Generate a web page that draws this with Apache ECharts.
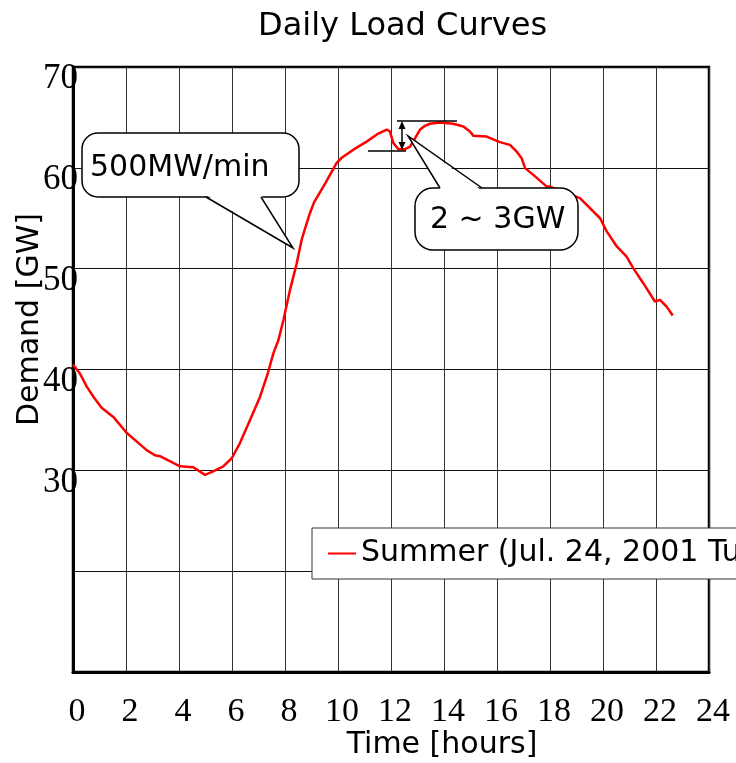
<!DOCTYPE html>
<html>
<head>
<meta charset="utf-8">
<script src="https://cdn.jsdelivr.net/npm/echarts@6/dist/echarts.min.js"></script>
<style>html,body{margin:0;padding:0;background:#fff;}#main{width:736px;height:763px;}</style>
</head>
<body>
<div id="main"></div>
<script>
// ---- data ----
const hours = [0, 0.26, 0.52, 0.77, 1.08, 1.52, 2.03, 2.78, 3.09, 3.28, 4.04, 4.54, 4.98, 5.29, 5.67, 5.99, 6.30, 6.68, 7.06, 7.36, 7.56, 7.75, 7.94, 8.19, 8.44, 8.63, 8.94, 9.10, 9.53, 9.95, 10.14, 10.58, 11.08, 11.52, 11.84, 11.96, 12.09, 12.28, 12.53, 12.72, 12.91, 13.09, 13.28, 13.47, 13.85, 14.35, 14.73, 14.98, 15.11, 15.61, 16.11, 16.49, 16.74, 16.93, 17.06, 17.37, 17.88, 18.0, 19.13, 19.89, 20.14, 20.52, 20.89, 21.14, 21.52, 21.96, 22.15, 22.40, 22.63];
const demand = [40.5, 39.6, 38.3, 37.3, 36.2, 35.3, 33.7, 32.0, 31.5, 31.4, 30.4, 30.3, 29.55, 29.9, 30.4, 31.2, 32.7, 35.0, 37.3, 39.7, 41.6, 42.9, 44.9, 47.9, 50.5, 52.9, 55.5, 56.6, 58.5, 60.5, 61.0, 61.8, 62.6, 63.4, 63.8, 63.6, 62.45, 61.85, 61.85, 62.1, 62.95, 63.77, 64.17, 64.37, 64.5, 64.37, 64.1, 63.6, 63.17, 63.1, 62.55, 62.28, 61.62, 60.96, 59.97, 59.3, 58.14, 58.14, 57.0, 55.0, 53.7, 52.2, 51.2, 50.05, 48.56, 46.74, 46.9, 46.24, 45.35];
const xTicks = [0, 2, 4, 6, 8, 10, 12, 14, 16, 18, 20, 22, 24];
const yTickLabels = [30, 40, 50, 60, 70];
const seriesName = 'Summer (Jul. 24, 2001 Tue.)';
const titleText = 'Daily Load Curves';
const xTitle = 'Time [hours]';
const yTitle = 'Demand [GW]';
const note1 = '500MW/min';
const note2 = '2 ~ 3GW';

const points = hours.map((h, i) => [h, demand[i]]);
const sans = '"DejaVu Sans", Verdana, sans-serif';
const serif = '"Liberation Serif", "DejaVu Serif", serif';

const chart = echarts.init(document.getElementById('main'), null, {renderer: 'canvas'});
const option = {
  backgroundColor: '#ffffff',
  animation: false,
  title: {
    text: titleText, left: 258, top: 11, padding: 0,
    textStyle: {fontFamily: sans, fontSize: 32, fontWeight: 'normal', color: '#000'}
  },
  legend: {
    left: 312, top: 528,
    padding: [10, 12, 10, 16],
    backgroundColor: '#fff',
    borderColor: '#333', borderWidth: 1,
    itemWidth: 28, itemHeight: 14,
    textStyle: {fontFamily: sans, fontSize: 30, color: '#000', lineHeight: 31},
    data: [{name: seriesName, icon: 'path://M0,0 L28,0 L28,2 L0,2 Z', itemStyle: {color: '#ff0000'}}]
  },
  grid: {
    left: 73, right: 27, top: 67, bottom: 91,
    show: true, borderColor: '#000', borderWidth: 2.5, backgroundColor: 'transparent'
  },
  xAxis: {
    type: 'value', min: 0, max: 24, interval: 2,
    axisLine: {show: true, lineStyle: {color: '#000', width: 3}},
    axisTick: {show: false},
    splitLine: {show: true, lineStyle: {color: '#333', width: 1}},
    axisLabel: {
      margin: 23, fontFamily: serif, fontSize: 34, color: '#000',
      padding: [0, 0, 0, 8],
      formatter: v => xTicks.indexOf(v) >= 0 ? String(v) : ''
    }
  },
  yAxis: {
    type: 'value', min: 10, max: 70, interval: 10,
    axisLine: {show: true, lineStyle: {color: '#000', width: 3}},
    axisTick: {show: false},
    splitLine: {show: true, lineStyle: {color: '#111', width: 1}},
    axisLabel: {
      margin: -5, fontFamily: serif, fontSize: 35, color: '#000',
      verticalAlign: 'top', lineHeight: 24,
      formatter: v => yTickLabels.indexOf(v) >= 0 ? String(v) : ''
    }
  },
  series: [{
    name: seriesName, type: 'line', data: points,
    showSymbol: false, symbol: 'none', smooth: false,
    lineStyle: {color: '#ff0000', width: 2.5},
    itemStyle: {color: '#ff0000'},
    z: 3
  }],
  graphic: [
    {type: 'text', left: 15, top: 213, rotation: Math.PI / 2, z: 10,
     style: {text: yTitle, font: '30px ' + sans, fill: '#000', x: 0, y: 0}},
    {type: 'text', z: 10, x: 442, y: 745,
     style: {text: xTitle, font: '30px ' + sans, fill: '#000', align: 'center', verticalAlign: 'middle'}},
    // callout 1
    {type: 'rect', z: 20, shape: {x: 82, y: 133, width: 217, height: 64, r: 16},
     style: {fill: '#fff', stroke: '#000', lineWidth: 1.5}},
    {type: 'polygon', z: 21, shape: {points: [[206, 195], [261, 195], [293, 248]]},
     style: {fill: '#fff', stroke: null}},
    {type: 'polyline', z: 22, shape: {points: [[206, 197], [293, 248], [261, 197]]},
     style: {stroke: '#000', lineWidth: 1.5, fill: null}},
    {type: 'text', z: 23, x: 90, y: 168,
     style: {text: note1, font: '30px ' + sans, fill: '#000', verticalAlign: 'middle'}},
    // callout 2
    {type: 'rect', z: 20, shape: {x: 415, y: 188, width: 163, height: 62, r: 18},
     style: {fill: '#fff', stroke: '#000', lineWidth: 1.5}},
    {type: 'polygon', z: 21, shape: {points: [[441, 190], [481, 190], [408, 136]]},
     style: {fill: '#fff', stroke: null}},
    {type: 'polyline', z: 22, shape: {points: [[440, 188], [408, 136], [482, 188]]},
     style: {stroke: '#000', lineWidth: 1.5, fill: null}},
    {type: 'text', z: 23, x: 430, y: 220,
     style: {text: note2, font: '30px ' + sans, fill: '#000', verticalAlign: 'middle'}},
    // dip measurement
    {type: 'line', z: 22, shape: {x1: 397, y1: 121, x2: 457, y2: 121}, style: {stroke: '#000', lineWidth: 1.5}},
    {type: 'line', z: 22, shape: {x1: 368, y1: 151, x2: 406, y2: 151}, style: {stroke: '#000', lineWidth: 1.5}},
    {type: 'line', z: 22, shape: {x1: 402, y1: 126, x2: 402, y2: 145}, style: {stroke: '#000', lineWidth: 1.5}},
    {type: 'polygon', z: 22, shape: {points: [[402, 121], [398.5, 129], [405.5, 129]]}, style: {fill: '#000'}},
    {type: 'polygon', z: 22, shape: {points: [[402, 150], [398.5, 142], [405.5, 142]]}, style: {fill: '#000'}}
  ]
};
chart.setOption(option);
</script>
</body>
</html>
